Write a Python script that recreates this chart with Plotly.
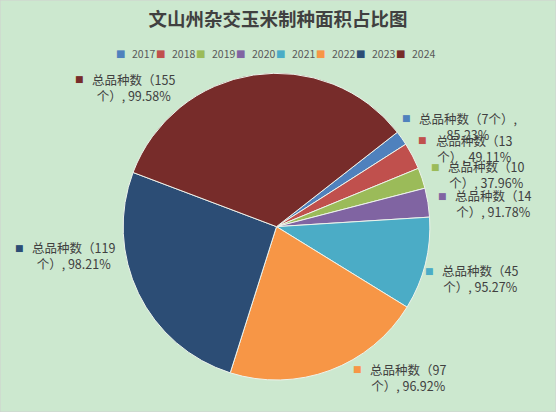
import plotly.graph_objects as go

# data
years = ["2017", "2018", "2019", "2020", "2021", "2022", "2023", "2024"]
variety_counts = [7, 13, 10, 14, 45, 97, 119, 155]
area_pct = ["85.23", "49.11", "37.96", "91.78", "95.27", "96.92", "98.21", "99.58"]
colors = ["#4F81BD", "#C0504D", "#9BBB59", "#8064A2",
          "#4BACC6", "#F79646", "#2C4D75", "#772C2A"]

W, H = 556, 412
BG = "#CCE8CF"
TXT = "#404040"
FONT = "Noto Sans CJK SC"

# label placement (pixels): text block centre and key square
label_cx = [468, 473.5, 486, 493, 479.5, 408, 73.5, 133]
label_cy = [126.7, 148, 174.2, 203.7, 278.7, 377.8, 256, 87.5]
key_x = [406.7, 422, 435, 442, 429, 357.7, 19, 79]
key_y = [118.3, 140, 166.7, 195.7, 270.7, 369, 248, 79]


def px(x):
    return x / W


def py(y):
    return 1 - y / H


fig = go.Figure()

fig.add_trace(go.Pie(
    labels=years,
    values=variety_counts,
    sort=False,
    direction="clockwise",
    rotation=52,
    marker=dict(colors=colors, line=dict(color="#EEF3EC", width=1)),
    textinfo="none",
    hoverinfo="label+value",
    showlegend=False,
    domain=dict(x=[px(123), px(430)], y=[py(380), py(73.3)]),
))

annotations = []

# data labels
for i, (n, p) in enumerate(zip(variety_counts, area_pct)):
    if n < 10:
        txt = f"总品种数（{n}个）,<br>{p}%"
    else:
        txt = f"总品种数（{n}<br>个）, {p}%"
    annotations.append(dict(
        x=px(label_cx[i]), y=py(label_cy[i]), xref="paper", yref="paper",
        text=txt, showarrow=False, xanchor="center", yanchor="middle",
        align="center", font=dict(family=FONT, size=12.5, color=TXT),
    ))
    annotations.append(dict(
        x=px(key_x[i]), y=py(key_y[i]), xref="paper", yref="paper",
        text="■", showarrow=False, xanchor="center", yanchor="middle",
        font=dict(family="DejaVu Sans", size=9, color=colors[i]),
    ))

# legend row
for i, yr in enumerate(years):
    sx = 120 + 40 * i
    annotations.append(dict(
        x=px(sx), y=py(53), xref="paper", yref="paper", text="■",
        showarrow=False, xanchor="center", yanchor="middle",
        font=dict(family="DejaVu Sans", size=10, color=colors[i]),
    ))
    annotations.append(dict(
        x=px(sx + 10), y=py(53), xref="paper", yref="paper", text=yr,
        showarrow=False, xanchor="left", yanchor="middle",
        font=dict(family=FONT, size=10.5, color="#595959"),
    ))

fig.update_layout(
    width=W, height=H,
    margin=dict(l=0, r=0, t=0, b=0),
    paper_bgcolor=BG,
    plot_bgcolor=BG,
    title=dict(
        text="<b>文山州杂交玉米制种面积占比图</b>",
        x=0.5, xanchor="center", y=py(20), yanchor="middle",
        font=dict(family=FONT, size=18.5, color=TXT),
    ),
    annotations=annotations,
    shapes=[dict(type="rect", xref="paper", yref="paper", x0=0, y0=0, x1=1, y1=1,
                 line=dict(color="#D0D0D0", width=1))],
)

fig.write_html("out.html", config={"displayModeBar": False},
               post_script="document.body.style.margin='0';")
